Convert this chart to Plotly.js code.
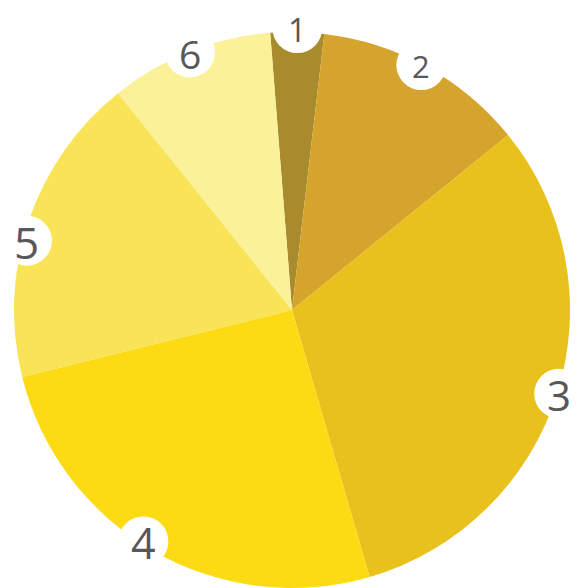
<!DOCTYPE html>
<html>
<head>
<meta charset="utf-8">
<script src="https://cdn.plot.ly/plotly-3.0.1.min.js"></script>
<style>html,body{margin:0;padding:0;background:#fff;}#chart{width:587px;height:588px;}</style>
</head>
<body>
<div id="chart"></div>
<script>
var categories = ["1", "2", "3", "4", "5", "6"];
var values = [3.1, 12.3, 31.3, 25.6, 18.1, 9.5];
var colors = ["#A88B2C", "#D4A42C", "#E8C11C", "#FDDB14", "#F9E356", "#FBF199"];
var labelSizes = [32, 31, 42, 43, 44, 39];
var labelAngleShift = [0, -1, 0, 2.8, -4, 0];
var labelRadius = [282, 277, 280, 275, 274, 277];

var W = 587, H = 588;
var cx = 292, cy = 310, R = 278;
var rotation = -4.5;
var badgeR = 25;

var total = values.reduce(function(a, b){ return a + b; }, 0);
var shapes = [], annotations = [];
var acc = 0;
for (var i = 0; i < values.length; i++) {
  var mid = rotation + (acc + values[i] / 2) / total * 360 + labelAngleShift[i];
  acc += values[i];
  var a = mid * Math.PI / 180;
  var px = cx + labelRadius[i] * Math.sin(a);
  var py = cy - labelRadius[i] * Math.cos(a);
  shapes.push({
    type: "circle", xref: "paper", yref: "paper", layer: "above",
    x0: (px - badgeR) / W, x1: (px + badgeR) / W,
    y0: 1 - (py + badgeR) / H, y1: 1 - (py - badgeR) / H,
    fillcolor: "#FFFFFF", line: { width: 0 }
  });
  annotations.push({
    xref: "paper", yref: "paper",
    x: px / W, y: 1 - (py + 1) / H,
    xanchor: "center", yanchor: "middle",
    text: categories[i], showarrow: false,
    font: { family: "Open Sans, Lato, sans-serif", size: labelSizes[i], color: "#58585A" }
  });
}

var pie = {
  type: "pie",
  labels: categories,
  values: values,
  sort: false,
  direction: "clockwise",
  rotation: rotation,
  marker: { colors: colors, line: { width: 0 } },
  textinfo: "none",
  hoverinfo: "none",
  showlegend: false,
  domain: { x: [(cx - R) / W, (cx + R) / W], y: [(H - cy - R) / H, (H - cy + R) / H] }
};

var layout = {
  width: W, height: H,
  margin: { l: 0, r: 0, t: 0, b: 0 },
  paper_bgcolor: "#FFFFFF",
  showlegend: false,
  shapes: shapes,
  annotations: annotations
};

Plotly.newPlot("chart", [pie], layout, { displayModeBar: false, staticPlot: true });
</script>
</body>
</html>
